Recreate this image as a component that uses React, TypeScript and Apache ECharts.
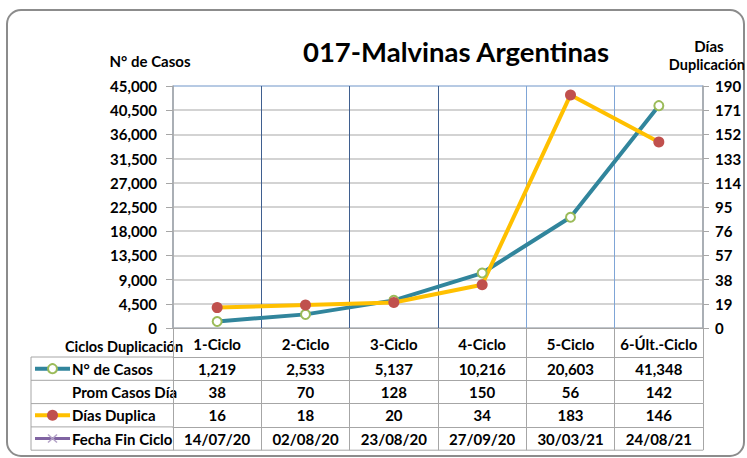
import React, { useEffect, useRef } from 'react';
import * as echarts from 'echarts';

// ---- Data ----
const categories = ['1-Ciclo', '2-Ciclo', '3-Ciclo', '4-Ciclo', '5-Ciclo', '6-Últ.-Ciclo'];
const casos = [1219, 2533, 5137, 10216, 20603, 41348];
const promCasosDia = [38, 70, 128, 150, 56, 142];
const diasDuplica = [16, 18, 20, 34, 183, 146];
const fechaFinCiclo = ['14/07/20', '02/08/20', '23/08/20', '27/09/20', '30/03/21', '24/08/21'];
const leftAxis = { min: 0, max: 45000, interval: 4500 };
const rightAxis = { min: 0, max: 190, interval: 19 };

// ---- Layout / style ----
const W = 747, H = 458;
const L = 173, R = 703, T = 86, B = 328;
const HEADER_H = 29;
const ROW_H = 23.3;
const TABLE_LEFT = 31;
const FONT = 'Lato';
const FS = 15;
const GRAY = '#A6A6A6';
const TEAL = '#31859C';
const GREEN = '#9BBB59';
const GOLD = '#FFC000';
const RED = '#C0504D';
const PURPLE = '#8064A2';

const fmt = (n: number) => n.toLocaleString('en-US');

export default function App() {
  const ref = useRef<HTMLDivElement>(null);
  useEffect(() => {
    const chart = echarts.init(ref.current!, null, { renderer: 'svg' });
    const rows = [
      { name: 'N° de Casos', values: casos.map(fmt), key: 'casos' },
      { name: 'Prom Casos Día', values: promCasosDia.map(String), key: 'none' },
      { name: 'Días Duplica', values: diasDuplica.map(String), key: 'dias' },
      { name: 'Fecha Fin Ciclo', values: fechaFinCiclo, key: 'fecha' },
    ];
    const labelStyle = { fontFamily: FONT, fontWeight: 'bold' as const, fontSize: FS, color: '#000' };
    const textEl = (text: string, x: number, y: number, align: string, size = FS) => ({
      type: 'text', x, y, silent: true,
      style: {
        text, fill: '#000', font: `bold ${size}px ${FONT}`,
        textAlign: align, textVerticalAlign: 'middle', align, verticalAlign: 'middle',
      },
    });
    const graphics: any[] = [];
    // outer frame
    graphics.push({
      type: 'rect', shape: { x: 7, y: 10, width: 737, height: 446, r: 14 },
      style: { fill: 'none', stroke: '#8C8C8C', lineWidth: 2 }, silent: true,
    });
    // title and axis names
    graphics.push(textEl('017-Malvinas Argentinas', 456, 51, 'center', 27.5));
    graphics.push(textEl('N° de Casos', 150, 61, 'center', FS));
    graphics.push(textEl('Días', 709, 46, 'center', FS));
    graphics.push(textEl('Duplicación', 745, 64, 'right', 14.5));
    graphics.push(textEl('Ciclos Duplicación', 124, B + 18, 'center', 14.5));
    // table label column borders
    const tableTop = B + HEADER_H;
    for (let k = 0; k <= rows.length; k++) {
      const y = tableTop + k * ROW_H;
      graphics.push({
        type: 'line', silent: true,
        shape: { x1: TABLE_LEFT, y1: y, x2: k === rows.length ? R : L, y2: y },
        style: { stroke: GRAY, lineWidth: 1 },
      });
    }
    graphics.push({
      type: 'line', silent: true,
      shape: { x1: TABLE_LEFT, y1: tableTop, x2: TABLE_LEFT, y2: tableTop + rows.length * ROW_H },
      style: { stroke: GRAY, lineWidth: 1 },
    });
    // row labels with legend keys
    rows.forEach((row, k) => {
      const cy = tableTop + k * ROW_H + ROW_H / 2;
      graphics.push(textEl(row.name, 72, cy, 'left', FS));
      if (row.key === 'casos') {
        graphics.push({ type: 'line', silent: true, shape: { x1: 35, y1: cy, x2: 70, y2: cy }, style: { stroke: TEAL, lineWidth: 4 } });
        graphics.push({ type: 'circle', silent: true, shape: { cx: 52.5, cy, r: 4.5 }, style: { fill: '#fff', stroke: GREEN, lineWidth: 2 } });
      } else if (row.key === 'dias') {
        graphics.push({ type: 'line', silent: true, shape: { x1: 35, y1: cy, x2: 70, y2: cy }, style: { stroke: GOLD, lineWidth: 4 } });
        graphics.push({ type: 'circle', silent: true, shape: { cx: 52.5, cy, r: 5.5 }, style: { fill: RED } });
      } else if (row.key === 'fecha') {
        graphics.push({ type: 'line', silent: true, shape: { x1: 35, y1: cy, x2: 70, y2: cy }, style: { stroke: PURPLE, lineWidth: 3 } });
        graphics.push({ type: 'line', silent: true, shape: { x1: 48, y1: cy - 4, x2: 57, y2: cy + 4 }, style: { stroke: '#B3A2C7', lineWidth: 1.5 } });
        graphics.push({ type: 'line', silent: true, shape: { x1: 48, y1: cy + 4, x2: 57, y2: cy - 4 }, style: { stroke: '#B3A2C7', lineWidth: 1.5 } });
      }
    });

    const rowAxes = rows.map((row, k) => ({
      type: 'category', gridIndex: 0, position: 'bottom',
      offset: HEADER_H + k * ROW_H,
      data: categories, boundaryGap: true,
      axisLine: { show: true, onZero: false, lineStyle: { color: GRAY, width: 1 } },
      axisTick: { show: true, length: ROW_H, interval: 0, alignWithLabel: false, lineStyle: { color: GRAY, width: 1 } },
      axisLabel: {
        ...labelStyle, interval: 0, margin: ROW_H / 2, verticalAlign: 'middle',
        formatter: (_v: string, i: number) => row.values[i],
      },
      splitLine: { show: false },
    }));

    chart.setOption({
      animation: false,
      backgroundColor: '#fff',
      grid: {
        left: L, right: W - R, top: T, bottom: H - B,
        show: true, borderColor: '#6F95C8', borderWidth: 1, backgroundColor: 'transparent',
      },
      xAxis: [
        {
          type: 'category', gridIndex: 0, position: 'bottom', data: categories, boundaryGap: true,
          axisLine: { show: true, onZero: false, lineStyle: { color: GRAY, width: 1 } },
          axisTick: { show: true, length: HEADER_H, interval: 0, lineStyle: { color: GRAY, width: 1 } },
          axisLabel: { ...labelStyle, interval: 0, margin: 16, verticalAlign: 'middle' },
          splitLine: {
            show: true, showMinLine: false, showMaxLine: false, interval: 0,
            lineStyle: { color: ['#3F5F8F', '#3F5F8F', '#3F5F8F', '#7FA5D6', '#7FA5D6'], width: 1 },
          },
        },
        ...rowAxes,
      ],
      yAxis: [
        {
          type: 'value', position: 'left', ...leftAxis,
          axisLine: { show: true, lineStyle: { color: GRAY, width: 1.5 } },
          axisTick: { show: true, length: 7, lineStyle: { color: GRAY } },
          axisLabel: { ...labelStyle, margin: 16, formatter: (v: number) => fmt(v) },
          splitLine: { show: true, showMaxLine: false, lineStyle: { color: '#C4C4C4', width: 1.5 } },
        },
        {
          type: 'value', position: 'right', ...rightAxis,
          axisLine: { show: true, lineStyle: { color: GRAY, width: 1.5 } },
          axisTick: { show: true, length: 6, lineStyle: { color: GRAY } },
          axisLabel: { ...labelStyle, margin: 12 },
          splitLine: { show: false },
        },
      ],
      series: [
        {
          name: 'N° de Casos', type: 'line', xAxisIndex: 0, yAxisIndex: 0, data: casos,
          symbol: 'circle', symbolSize: 9,
          lineStyle: { color: TEAL, width: 4 },
          itemStyle: { color: '#fff', borderColor: GREEN, borderWidth: 2 },
        },
        {
          name: 'Días Duplica', type: 'line', xAxisIndex: 0, yAxisIndex: 1, data: diasDuplica,
          symbol: 'circle', symbolSize: 11,
          lineStyle: { color: GOLD, width: 4 },
          itemStyle: { color: RED, borderWidth: 0 },
        },
      ],
      graphic: graphics,
    });
    return () => chart.dispose();
  }, []);
  return <div ref={ref} style={{ position: 'fixed', left: 0, top: 0, width: W, height: H, background: '#fff' }} />;
}
